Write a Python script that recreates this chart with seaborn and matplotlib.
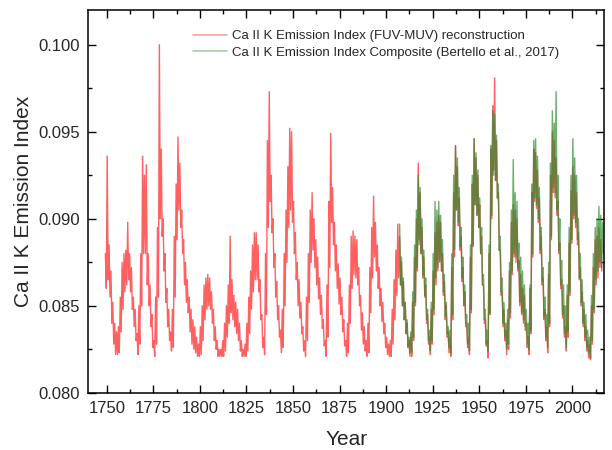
import matplotlib
matplotlib.use("Agg")
import matplotlib.pyplot as plt
from matplotlib.lines import Line2D
from matplotlib.ticker import MultipleLocator, FormatStrFormatter
import pandas as pd
import seaborn as sns

# Upper / lower edge of each yearly band
red_start = 1749
red_hi = [
    0.0880,
    0.0936, 0.0885, 0.0870, 0.0852, 0.0840, 0.0835, 0.0838, 0.0855, 0.0875, 0.0880,
    0.0882, 0.0898, 0.0880, 0.0872, 0.0855, 0.0848, 0.0834, 0.0850, 0.0880, 0.0936,
    0.0925, 0.0931, 0.0880, 0.0862, 0.0845, 0.0830, 0.0855, 0.0895, 0.1000, 0.0940,
    0.0900, 0.0880, 0.0860, 0.0848, 0.0835, 0.0848, 0.0890, 0.0920, 0.0947, 0.0932,
    0.0905, 0.0888, 0.0875, 0.0865, 0.0855, 0.0848, 0.0842, 0.0838, 0.0832, 0.0828,
    0.0838, 0.0850, 0.0862, 0.0866, 0.0868, 0.0866, 0.0858, 0.0848, 0.0838, 0.0830,
    0.0825, 0.0825, 0.0830, 0.0840, 0.0850, 0.0862, 0.0890, 0.0865, 0.0856, 0.0852,
    0.0848, 0.0840, 0.0830, 0.0825, 0.0828, 0.0840, 0.0855, 0.0870, 0.0885, 0.0892,
    0.0892, 0.0885, 0.0865, 0.0845, 0.0832, 0.0880, 0.0945, 0.0973, 0.0925, 0.0900,
    0.0880, 0.0864, 0.0850, 0.0836, 0.0848, 0.0880, 0.0905, 0.0930, 0.0952, 0.0950,
    0.0910, 0.0892, 0.0875, 0.0865, 0.0852, 0.0838, 0.0830, 0.0855, 0.0880, 0.0905,
    0.0915, 0.0900, 0.0888, 0.0878, 0.0866, 0.0856, 0.0842, 0.0830, 0.0862, 0.0910,
    0.0949, 0.0918, 0.0898, 0.0885, 0.0874, 0.0866, 0.0855, 0.0842, 0.0830, 0.0840,
    0.0862, 0.0890, 0.0893, 0.0890, 0.0888, 0.0872, 0.0856, 0.0846, 0.0838, 0.0830,
    0.0840, 0.0872, 0.0895, 0.0913, 0.0898, 0.0885, 0.0872, 0.0860, 0.0852, 0.0840,
    0.0832, 0.0828, 0.0830, 0.0848, 0.0865, 0.0882, 0.0897, 0.0890, 0.0875, 0.0864,
    0.0852, 0.0840, 0.0830, 0.0832, 0.0852, 0.0878, 0.0900, 0.0932, 0.0915, 0.0895,
    0.0878, 0.0862, 0.0845, 0.0832, 0.0848, 0.0870, 0.0892, 0.0898, 0.0902, 0.0898,
    0.0880, 0.0864, 0.0850, 0.0835, 0.0832, 0.0872, 0.0915, 0.0942, 0.0930, 0.0912,
    0.0890, 0.0872, 0.0858, 0.0840, 0.0832, 0.0878, 0.0920, 0.0946, 0.0935, 0.0925,
    0.0908, 0.0890, 0.0862, 0.0842, 0.0830, 0.0880, 0.0940, 0.0965, 0.0981, 0.0945,
    0.0915, 0.0882, 0.0858, 0.0848, 0.0836, 0.0842, 0.0870, 0.0898, 0.0908, 0.0905,
    0.0900, 0.0876, 0.0868, 0.0860, 0.0856, 0.0840, 0.0832, 0.0860, 0.0915, 0.0940,
    0.0938, 0.0928, 0.0912, 0.0890, 0.0866, 0.0848, 0.0838, 0.0868, 0.0925, 0.0950,
    0.0945, 0.0935, 0.0910, 0.0886, 0.0865, 0.0850, 0.0838, 0.0856, 0.0886, 0.0916,
    0.0930, 0.0925, 0.0915, 0.0892, 0.0872, 0.0858, 0.0848, 0.0838, 0.0830, 0.0828,
    0.0850, 0.0872, 0.0888, 0.0890, 0.0895, 0.0888,
]
red_lo = [
    0.0860,
    0.0865, 0.0855, 0.0840, 0.0828, 0.0822, 0.0822, 0.0823, 0.0835, 0.0848, 0.0858,
    0.0862, 0.0865, 0.0858, 0.0848, 0.0838, 0.0830, 0.0822, 0.0828, 0.0850, 0.0880,
    0.0880, 0.0862, 0.0850, 0.0838, 0.0826, 0.0821, 0.0828, 0.0855, 0.0900, 0.0890,
    0.0870, 0.0852, 0.0838, 0.0830, 0.0824, 0.0826, 0.0855, 0.0888, 0.0905, 0.0895,
    0.0880, 0.0862, 0.0852, 0.0846, 0.0835, 0.0828, 0.0825, 0.0823, 0.0821, 0.0821,
    0.0822, 0.0830, 0.0842, 0.0848, 0.0850, 0.0848, 0.0840, 0.0830, 0.0825, 0.0821,
    0.0821, 0.0821, 0.0821, 0.0824, 0.0832, 0.0840, 0.0846, 0.0842, 0.0838, 0.0834,
    0.0830, 0.0824, 0.0821, 0.0821, 0.0821, 0.0824, 0.0834, 0.0848, 0.0858, 0.0865,
    0.0865, 0.0858, 0.0842, 0.0826, 0.0822, 0.0845, 0.0895, 0.0910, 0.0892, 0.0872,
    0.0855, 0.0842, 0.0832, 0.0823, 0.0826, 0.0850, 0.0875, 0.0895, 0.0905, 0.0898,
    0.0880, 0.0865, 0.0850, 0.0843, 0.0834, 0.0824, 0.0821, 0.0830, 0.0852, 0.0875,
    0.0882, 0.0872, 0.0862, 0.0854, 0.0845, 0.0837, 0.0827, 0.0821, 0.0832, 0.0872,
    0.0898, 0.0885, 0.0870, 0.0860, 0.0851, 0.0845, 0.0835, 0.0827, 0.0821, 0.0823,
    0.0840, 0.0860, 0.0868, 0.0866, 0.0862, 0.0850, 0.0836, 0.0828, 0.0824, 0.0821,
    0.0823, 0.0846, 0.0866, 0.0878, 0.0870, 0.0860, 0.0850, 0.0841, 0.0834, 0.0826,
    0.0822, 0.0821, 0.0821, 0.0828, 0.0842, 0.0856, 0.0866, 0.0862, 0.0850, 0.0842,
    0.0834, 0.0826, 0.0821, 0.0821, 0.0830, 0.0850, 0.0870, 0.0888, 0.0880, 0.0866,
    0.0855, 0.0840, 0.0828, 0.0822, 0.0828, 0.0845, 0.0862, 0.0870, 0.0875, 0.0870,
    0.0856, 0.0842, 0.0832, 0.0823, 0.0821, 0.0842, 0.0878, 0.0905, 0.0896, 0.0882,
    0.0864, 0.0850, 0.0838, 0.0826, 0.0822, 0.0846, 0.0884, 0.0908, 0.0902, 0.0895,
    0.0880, 0.0862, 0.0840, 0.0827, 0.0820, 0.0845, 0.0900, 0.0928, 0.0922, 0.0912,
    0.0882, 0.0856, 0.0838, 0.0830, 0.0822, 0.0825, 0.0843, 0.0868, 0.0878, 0.0875,
    0.0870, 0.0850, 0.0845, 0.0840, 0.0836, 0.0826, 0.0822, 0.0834, 0.0878, 0.0910,
    0.0906, 0.0898, 0.0880, 0.0862, 0.0842, 0.0830, 0.0823, 0.0838, 0.0888, 0.0915,
    0.0912, 0.0902, 0.0880, 0.0860, 0.0843, 0.0832, 0.0824, 0.0832, 0.0856, 0.0886,
    0.0900, 0.0895, 0.0885, 0.0865, 0.0850, 0.0838, 0.0830, 0.0824, 0.0820, 0.0819,
    0.0828, 0.0846, 0.0862, 0.0866, 0.0872, 0.0870,
]

green_start = 1907
green_hi = [
    0.0897, 0.0878, 0.0866,
    0.0852, 0.0842, 0.0832, 0.0835, 0.0858, 0.0885, 0.0905, 0.0925, 0.0918, 0.0900,
    0.0882, 0.0866, 0.0848, 0.0836, 0.0852, 0.0880, 0.0910, 0.0905, 0.0910, 0.0902,
    0.0888, 0.0868, 0.0852, 0.0838, 0.0836, 0.0880, 0.0925, 0.0942, 0.0935, 0.0918,
    0.0895, 0.0878, 0.0862, 0.0845, 0.0840, 0.0885, 0.0925, 0.0946, 0.0938, 0.0928,
    0.0912, 0.0895, 0.0868, 0.0848, 0.0836, 0.0885, 0.0942, 0.0962, 0.0960, 0.0948,
    0.0920, 0.0890, 0.0866, 0.0852, 0.0840, 0.0848, 0.0875, 0.0905, 0.0934, 0.0915,
    0.0910, 0.0886, 0.0878, 0.0870, 0.0862, 0.0848, 0.0840, 0.0862, 0.0920, 0.0945,
    0.0946, 0.0936, 0.0918, 0.0895, 0.0872, 0.0855, 0.0845, 0.0875, 0.0932, 0.0962,
    0.0955, 0.0973, 0.0925, 0.0900, 0.0876, 0.0862, 0.0850, 0.0862, 0.0895, 0.0925,
    0.0946, 0.0935, 0.0925, 0.0900, 0.0880, 0.0865, 0.0852, 0.0845, 0.0836, 0.0832,
    0.0856, 0.0880, 0.0895, 0.0900, 0.0907, 0.0902, 0.0898,
]
green_lo = [
    0.0862, 0.0850, 0.0842,
    0.0834, 0.0827, 0.0823, 0.0823, 0.0832, 0.0852, 0.0872, 0.0885, 0.0880, 0.0868,
    0.0856, 0.0842, 0.0830, 0.0824, 0.0830, 0.0848, 0.0866, 0.0872, 0.0876, 0.0870,
    0.0858, 0.0844, 0.0834, 0.0826, 0.0823, 0.0845, 0.0882, 0.0905, 0.0898, 0.0884,
    0.0866, 0.0850, 0.0840, 0.0828, 0.0824, 0.0848, 0.0885, 0.0908, 0.0902, 0.0895,
    0.0880, 0.0862, 0.0842, 0.0828, 0.0824, 0.0846, 0.0902, 0.0925, 0.0922, 0.0912,
    0.0882, 0.0858, 0.0840, 0.0832, 0.0825, 0.0828, 0.0846, 0.0870, 0.0880, 0.0878,
    0.0872, 0.0852, 0.0846, 0.0842, 0.0838, 0.0828, 0.0825, 0.0836, 0.0880, 0.0912,
    0.0908, 0.0900, 0.0882, 0.0864, 0.0844, 0.0832, 0.0826, 0.0840, 0.0890, 0.0918,
    0.0915, 0.0905, 0.0882, 0.0862, 0.0845, 0.0834, 0.0826, 0.0835, 0.0858, 0.0888,
    0.0902, 0.0898, 0.0888, 0.0866, 0.0852, 0.0840, 0.0832, 0.0826, 0.0823, 0.0820,
    0.0830, 0.0848, 0.0865, 0.0870, 0.0875, 0.0872, 0.0880,
]

label_red = "Ca II K Emission Index (FUV-MUV) reconstruction"
label_green = "Ca II K Emission Index Composite (Bertello et al., 2017)"


def band_frame(start, hi, lo):
    # interleave upper and lower edges, twice a year
    rows = []
    for i, (h, l) in enumerate(zip(hi, lo)):
        rows.append((start + i + 0.25, h))
        rows.append((start + i + 0.75, l))
    return pd.DataFrame(rows, columns=["year", "value"])


df_red = band_frame(red_start, red_hi, red_lo)
df_green = band_frame(green_start, green_hi, green_lo)

sns.set_theme(style="ticks")
plt.rcParams["font.family"] = ["Liberation Sans", "DejaVu Sans"]

fig, ax = plt.subplots(figsize=(6.12, 4.5), dpi=100)
fig.subplots_adjust(left=0.144, right=0.987, bottom=0.127, top=0.978)

sns.lineplot(data=df_red, x="year", y="value", ax=ax, color="#ff4545",
             linewidth=1.0, alpha=0.85, estimator=None, sort=False)
sns.lineplot(data=df_green, x="year", y="value", ax=ax, color="#2f8a2f",
             linewidth=1.0, alpha=0.7, estimator=None, sort=False)

ax.set_xlim(1740, 2017)
ax.set_ylim(0.080, 0.102)
ax.xaxis.set_major_locator(MultipleLocator(25))
ax.xaxis.set_minor_locator(MultipleLocator(12.5))
ax.yaxis.set_major_locator(MultipleLocator(0.005))
ax.yaxis.set_minor_locator(MultipleLocator(0.0025))
ax.yaxis.set_major_formatter(FormatStrFormatter("%.3f"))
ax.tick_params(which="both", direction="in", top=True, right=True,
               labelsize=12, width=1, color="black", pad=6)
ax.tick_params(which="major", length=6)
ax.tick_params(which="minor", length=3)
for s in ax.spines.values():
    s.set_linewidth(1.1)
    s.set_color("black")

ax.set_xlabel("Year", fontsize=15, labelpad=10)
ax.set_ylabel("Ca II K Emission Index", fontsize=15)

handles = [Line2D([], [], color="#ffa0a0", lw=1.2),
           Line2D([], [], color="#a5cfa5", lw=1.2)]
ax.legend(handles, [label_red, label_green], loc="upper left",
          bbox_to_anchor=(0.19, 0.965), frameon=False, fontsize=9.5,
          handlelength=2.6, handletextpad=0.4, borderpad=0, labelspacing=0.35)

plt.savefig("out.png", dpi=100)
